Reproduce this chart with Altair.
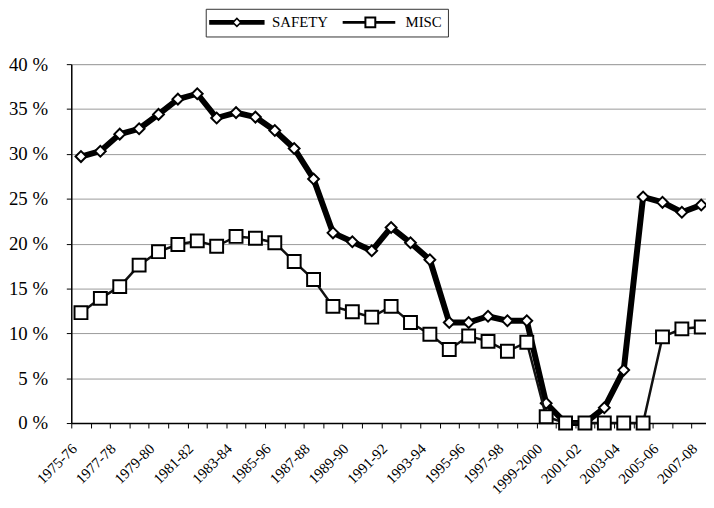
import altair as alt
import pandas as pd

periods = ["1975-76", "1976-77", "1977-78", "1978-79", "1979-80", "1980-81",
           "1981-82", "1982-83", "1983-84", "1984-85", "1985-96", "1986-87",
           "1987-88", "1988-89", "1989-90", "1990-91", "1991-92", "1992-93",
           "1993-94", "1994-95", "1995-96", "1996-97", "1997-98", "1998-99",
           "1999-2000", "2000-01", "2001-02", "2002-03", "2003-04", "2004-05",
           "2005-06", "2006-07", "2007-08"]

safety = [29.7, 30.3, 32.2, 32.8, 34.4, 36.1, 36.7, 34.0, 34.6, 34.1, 32.6,
          30.6, 27.2, 21.2, 20.2, 19.2, 21.8, 20.1, 18.2, 11.2, 11.2, 11.9,
          11.4, 11.4, 2.2, 0.0, 0.0, 1.7, 5.9, 25.2, 24.6, 23.5, 24.3]

misc = [12.3, 13.9, 15.2, 17.6, 19.1, 19.9, 20.3, 19.7, 20.8, 20.6, 20.1,
        18.0, 16.0, 13.0, 12.4, 11.8, 13.0, 11.2, 9.9, 8.2, 9.7, 9.1,
        8.0, 9.0, 0.7, 0.0, 0.0, 0.0, 0.0, 0.0, 9.6, 10.5, 10.7]

series_names = ["SAFETY", "MISC"]
shown_labels = periods[::2]
y_ticks = [0, 5, 10, 15, 20, 25, 30, 35, 40]

rows = []
for name, vals in zip(series_names, [safety, misc]):
    for p, v in zip(periods, vals):
        rows.append({"period": p, "series": name, "value": v})
df = pd.DataFrame(rows)

FONT = "Liberation Serif"

label_expr = "indexof([" + ",".join("'" + s + "'" for s in shown_labels) + "], datum.label) >= 0 ? datum.label : ''"

x_enc = alt.X(
    "period:N",
    sort=periods,
    scale=alt.Scale(type="band", domain=periods, range=[0, 647], paddingInner=0, paddingOuter=0),
    axis=alt.Axis(
        title=None, tickBand="extent", labelAngle=-45, labelAlign="right",
        labelBaseline="middle", labelFont=FONT, labelFontSize=15, labelColor="black",
        labelPadding=18, labelOffset=-7, labelExpr=label_expr, labelOverlap=False,
        tickColor="black", tickSize=5, domainColor="black", domainWidth=1.5,
        grid=False,
    ),
)
y_enc = alt.Y(
    "value:Q",
    scale=alt.Scale(domain=[0, 40], nice=False),
    axis=alt.Axis(
        title=None, values=y_ticks, labelExpr="datum.value + ' %'",
        labelFont=FONT, labelFontSize=19, labelColor="black", labelPadding=19,
        tickColor="black", tickSize=5, domainColor="black", domainWidth=1.5,
        grid=True, gridColor="#9a9a9a", gridWidth=1,
    ),
)

base = alt.Chart(df)

s_line = base.transform_filter("datum.series == 'SAFETY'").mark_line(
    color="black", strokeWidth=6).encode(x=x_enc, y=y_enc)
s_pts = base.transform_filter("datum.series == 'SAFETY'").mark_point(
    shape="diamond", filled=True, fill="white", stroke="black", strokeWidth=2,
    size=120, opacity=1).encode(x=x_enc, y=y_enc)
m_line = base.transform_filter("datum.series == 'MISC'").mark_line(
    color="#111", strokeWidth=2.5).encode(x=x_enc, y=y_enc)
m_pts = base.transform_filter("datum.series == 'MISC'").mark_point(
    shape="square", filled=True, fill="white", stroke="black", strokeWidth=2,
    size=170, opacity=1).encode(x=x_enc, y=y_enc)

path_safety = ("M-7,-0.6L-0.8,-0.6L-0.8,0.6L-7,0.6Z "
               "M0.8,-0.6L7,-0.6L7,0.6L0.8,0.6Z "
               "M0,-1.3L1.3,0L0,1.3L-1.3,0Z "
               "M0,-0.72L-0.72,0L0,0.72L0.72,0Z")
path_misc = ("M-7,-0.375L-1.2,-0.375L-1.2,0.375L-7,0.375Z "
             "M1.2,-0.375L6.3,-0.375L6.3,0.375L1.2,0.375Z "
             "M-1.5,-1.5L1.5,-1.5L1.5,1.5L-1.5,1.5Z "
             "M-1,-1L-1,1L1,1L1,-1Z")

legend_layer = base.mark_point(filled=True, color="black", opacity=0).encode(
    x=x_enc, y=y_enc,
    shape=alt.Shape(
        "series:N",
        scale=alt.Scale(domain=series_names, range=[path_safety, path_misc]),
        legend=alt.Legend(
            title=None, orient="none", legendX=136, legendY=-56,
            direction="horizontal", symbolSize=64, symbolOffset=18,
            labelOffset=28, symbolOpacity=1, symbolStrokeWidth=0,
            symbolFillColor="black", labelFont=FONT, labelFontSize=15,
            labelColor="black", columnPadding=14, padding=6,
            strokeColor="#333", fillColor="white",
        ),
    ),
)

chart = alt.layer(s_line, s_pts, m_line, m_pts, legend_layer).properties(
    width=642, height=363,
    padding={"left": 64, "top": 54, "right": 0, "bottom": 72},
    autosize=alt.AutoSizeParams(type="none"),
).configure_view(stroke=None).configure(font=FONT, background="white")

chart.save("out.html", embed_options={"renderer": "svg", "actions": False})
